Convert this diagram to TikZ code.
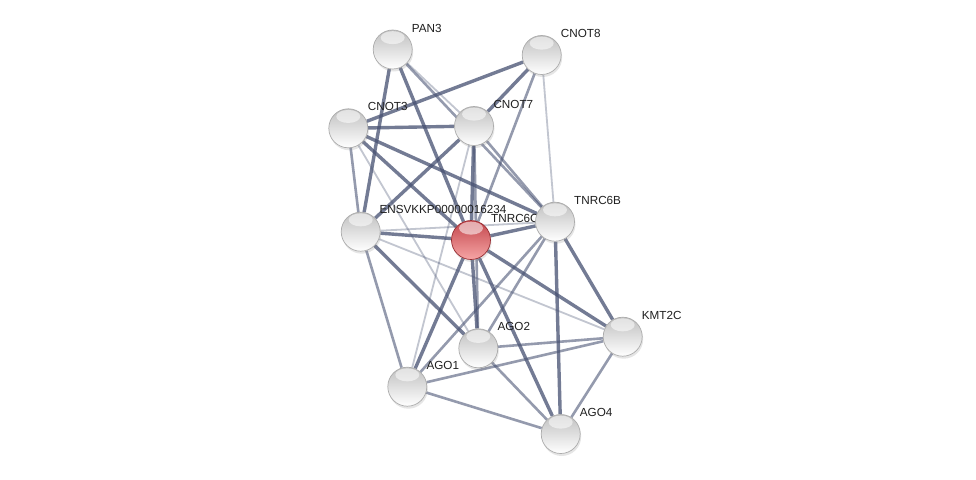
\documentclass[tikz,border=0pt]{standalone}
\usepackage{fontspec}
\setmainfont{Liberation Sans}
\usetikzlibrary{backgrounds,shadows,calc}
\definecolor{edgec}{RGB}{72,82,115}
\definecolor{redrim}{RGB}{150,45,50}
\definecolor{redtop}{RGB}{195,70,76}
\definecolor{redbot}{RGB}{246,165,165}
\begin{document}
\begin{tikzpicture}[x=1pt,y=-1pt,
  ballnode/.style={circle, minimum size=39pt, inner sep=0pt, draw=gray!65, line width=0.7pt,
    top color=gray!50, bottom color=white,
    drop shadow={opacity=0.2, shadow xshift=1pt, shadow yshift=-2.5pt}},
  rednode/.style={ballnode, draw=redrim, top color=redtop, bottom color=redbot},
  lbl/.style={anchor=base west, inner sep=0pt, font=\fontsize{11.7}{13}\selectfont, text=black!88},
  strong/.style={draw=edgec, line width=3.4pt, opacity=0.76},
  mid/.style={draw=edgec, line width=2.6pt, opacity=0.58},
  weak/.style={draw=edgec, line width=1.8pt, opacity=0.33},
]
\useasboundingbox (0,0) rectangle (976,479);

% labels
\node[lbl] (lPAN3)   at (411.7,32.0)  {PAN3};
\node[lbl] (lCNOT8)  at (560.7,37.5)  {CNOT8};
\node[lbl] (lCNOT3)  at (367.7,110.7) {CNOT3};
\node[lbl] (lCNOT7)  at (493.3,108.4) {CNOT7};
\node[lbl] (lENSV)   at (379.3,213.2) {ENSVKKP00000016234};
\node[lbl] (lTNRC6C) at (491.0,222.6) {TNRC6C};
\node[lbl] (lTNRC6B) at (574.0,204.2) {TNRC6B};
\node[lbl] (lKMT2C)  at (641.7,319.2) {KMT2C};
\node[lbl] (lAGO2)   at (497.3,330.8) {AGO2};
\node[lbl] (lAGO1)   at (426.3,369.2) {AGO1};
\node[lbl] (lAGO4)   at (579.7,416.5) {AGO4};

% nodes
\node[ballnode] (PAN3)   at (392.7,49.5)  {};
\node[ballnode] (CNOT8)  at (541.7,55.0)  {};
\node[ballnode] (CNOT3)  at (348.3,128.3) {};
\node[ballnode] (CNOT7)  at (474.0,126.0) {};
\node[ballnode] (ENSV)   at (360.7,231.7) {};
\node[rednode]  (TNRC6C) at (471.0,240.0) {};
\node[ballnode] (TNRC6B) at (555.0,221.7) {};
\node[ballnode] (KMT2C)  at (622.7,336.7) {};
\node[ballnode] (AGO2)   at (478.3,348.3) {};
\node[ballnode] (AGO1)   at (407.3,386.7) {};
\node[ballnode] (AGO4)   at (560.7,434.0) {};

% highlights
\foreach \n in {PAN3,CNOT8,CNOT3,CNOT7,ENSV,TNRC6C,TNRC6B,KMT2C,AGO2,AGO1,AGO4}
  \fill[white,opacity=0.55] ([yshift=-8pt]\n.north) ellipse (12pt and 6.5pt);

% edges
\begin{pgfonlayer}{background}
\fill[white] (0,0) rectangle (976,479);
\draw[strong] (PAN3) -- (ENSV);
\draw[strong] (PAN3) -- (TNRC6C);
\draw[weak]   (PAN3) -- (CNOT7);
\draw[mid]    (PAN3) -- (TNRC6B);
\draw[strong] (CNOT8) -- (CNOT3);
\draw[strong] (CNOT8) -- (CNOT7);
\draw[mid]    (CNOT8) -- (TNRC6C);
\draw[weak]   (CNOT8) -- (TNRC6B);
\draw[strong] (CNOT3) -- (CNOT7);
\draw[mid]    (CNOT3) -- (ENSV);
\draw[strong] (CNOT3) -- (TNRC6B);
\draw[strong] (CNOT3) -- (TNRC6C);
\draw[weak]   (CNOT3) -- (AGO2);
\draw[strong] (CNOT7) -- (ENSV);
\draw[strong] (CNOT7) -- (TNRC6C);
\draw[mid]    (CNOT7) -- (AGO2);
\draw[mid]    (CNOT7) -- (TNRC6B);
\draw[weak]   (CNOT7) -- (AGO1);
\draw[strong] (ENSV) -- (TNRC6C);
\draw[weak]   (ENSV) -- (TNRC6B);
\draw[weak]   (ENSV) -- (KMT2C);
\draw[mid]    (ENSV) -- (AGO1);
\draw[strong] (ENSV) -- (AGO2);
\draw[strong] (TNRC6C) -- (TNRC6B);
\draw[strong] (TNRC6C) -- (AGO2);
\draw[strong] (TNRC6C) -- (AGO1);
\draw[strong] (TNRC6C) -- (AGO4);
\draw[strong] (TNRC6C) -- (KMT2C);
\draw[strong] (TNRC6B) -- (AGO4);
\draw[strong] (TNRC6B) -- (KMT2C);
\draw[mid]    (TNRC6B) -- (AGO1);
\draw[mid]    (TNRC6B) -- (AGO2);
\draw[mid]    (KMT2C) -- (AGO2);
\draw[mid]    (KMT2C) -- (AGO1);
\draw[mid]    (KMT2C) -- (AGO4);
\draw[mid]    (AGO2) -- (AGO4);
\draw[mid]    (AGO1) -- (AGO4);
\end{pgfonlayer}
\end{tikzpicture}
\end{document}
